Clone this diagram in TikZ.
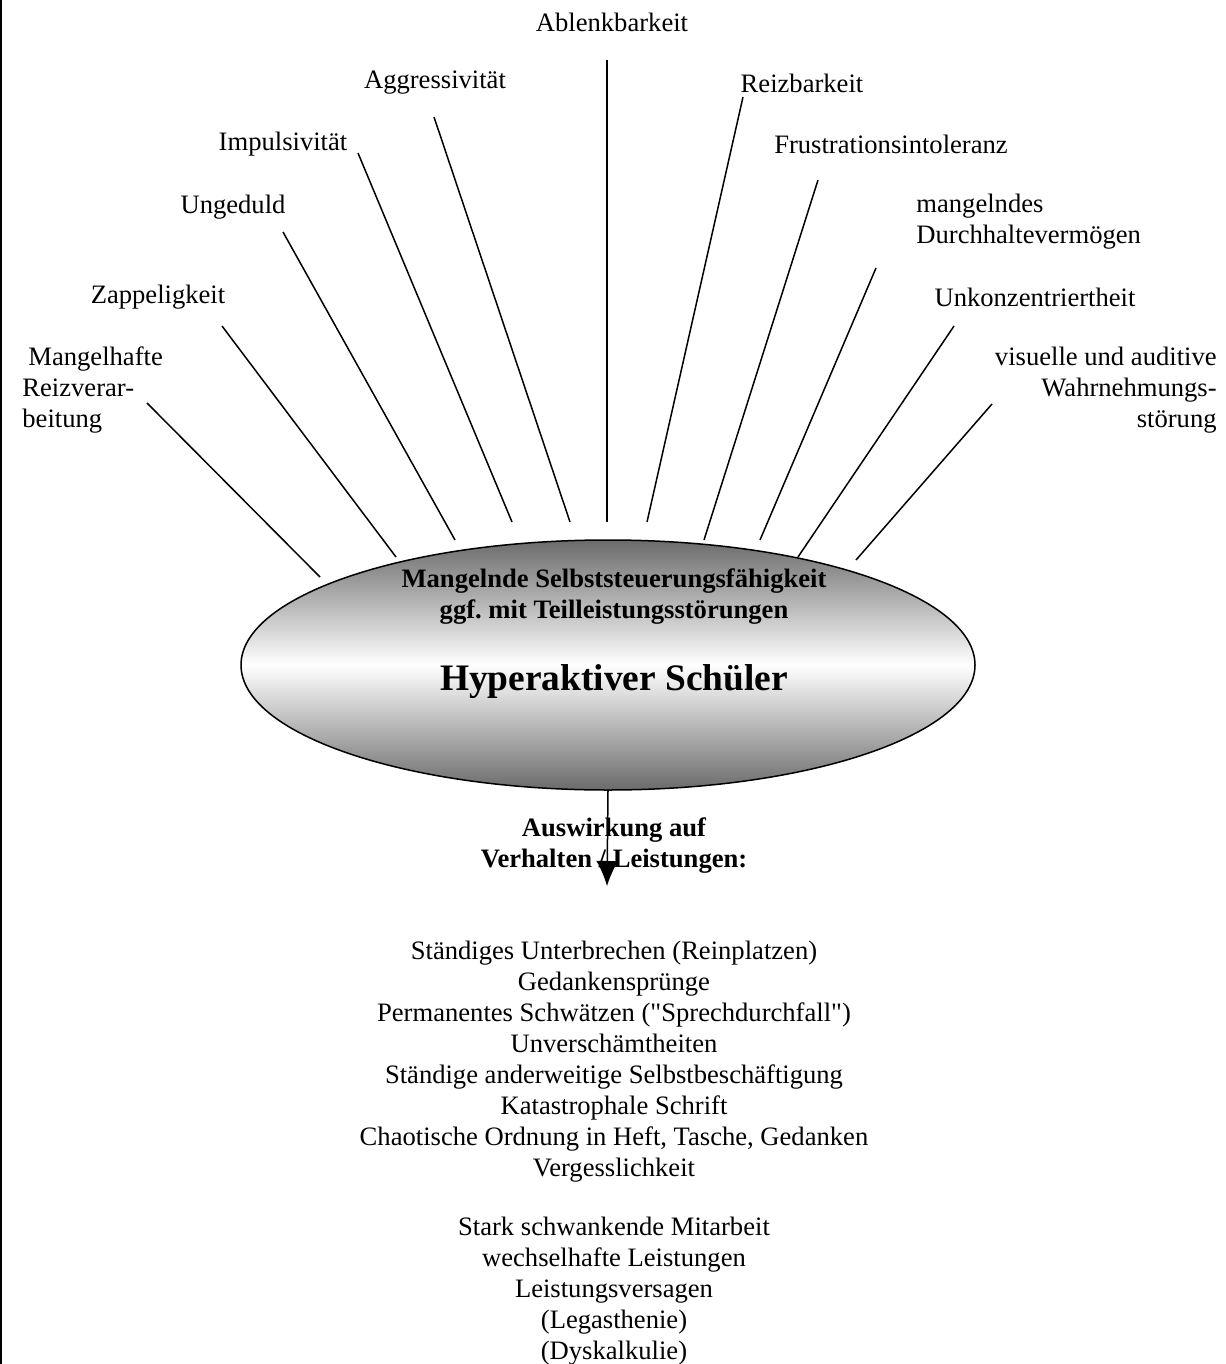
\documentclass[tikz,border=0pt]{standalone}
\usepackage{fontspec}
\setmainfont{Liberation Serif}
\newfontfamily\rawfont{Liberation Serif}
\usetikzlibrary{shapes.geometric,arrows.meta}
\frenchspacing
\begin{document}
\begin{tikzpicture}[x=0.5pt,y=-0.5pt,
  lbl/.style={font=\fontsize{13.3pt}{15.5pt}\selectfont, inner sep=0pt},
  boldlbl/.style={font=\fontsize{13.3pt}{15.5pt}\selectfont\bfseries, inner sep=0pt, align=center},
  titlelbl/.style={font=\fontsize{18.7pt}{22pt}\selectfont\bfseries, inner sep=0pt},
  listlbl/.style={font=\fontsize{13.3pt}{15.5pt}\selectfont, inner sep=0pt, align=center},
  ray/.style={line width=0.75pt},
  ell/.style={ellipse, draw, line width=0.75pt, minimum width=367pt, minimum height=125pt, inner sep=0pt,
    top color=black!58, bottom color=black!58, middle color=white}
]
\useasboundingbox (0,0) rectangle (1225,1364);
\draw[line width=0.9pt] (1,0) -- (1,1364);

% labels
\node[lbl] (t1) at (612,22) {Ablenkbarkeit};
\node[lbl] (t2) at (435,83) {Aggressivität};
\node[lbl] (t3) at (802,83) {Reizbarkeit};
\node[lbl] (t4) at (283,144) {Impulsivität};
\node[lbl] (t5) at (891,144) {Frustrationsintoleranz};
\node[lbl] (t6) at (233,207) {Ungeduld};
\node[lbl, align=left, anchor=west] (t7) at (916,222) {mangelndes\\Durchhaltevermögen};
\node[lbl] (t8) at (158,297) {Zappeligkeit};
\node[lbl] (t9) at (1035,297) {Unkonzentriertheit};
\node[lbl, align=left, anchor=west] (t10) at (22,390) {\hspace{3pt}Mangelhafte\\Reizverar-\\beitung};
\node[lbl, align=right, anchor=east] (t11) at (1217,390) {visuelle und auditive\\Wahrnehmungs-\\störung};

% ray end points
\coordinate (a1) at (147,403); \coordinate (b1) at (320,577);
\coordinate (a2) at (222,326); \coordinate (b2) at (396,557);
\coordinate (a3) at (283,232); \coordinate (b3) at (455,540);
\coordinate (a4) at (358,153); \coordinate (b4) at (512,522);
\coordinate (a5) at (434,117); \coordinate (b5) at (570,522);
\coordinate (a6) at (607,60);  \coordinate (b6) at (607,522);
\coordinate (a7) at (743,97);  \coordinate (b7) at (647,522);
\coordinate (a8) at (818,180); \coordinate (b8) at (704,540);
\coordinate (a9) at (876,268); \coordinate (b9) at (760,540);
\coordinate (a10) at (954,326); \coordinate (b10) at (798,557);
\coordinate (a11) at (992,404); \coordinate (b11) at (856,560);
\foreach \i in {1,...,11} {\draw[ray] (a\i) -- (b\i);}

% ellipse
\node[ell] (e) at (608,665) {};
\node[boldlbl] (s1) at (614,597) {Mangelnde Selbststeuerungsfähigkeit\\ggf. mit Teilleistungsstörungen};
\node[titlelbl] (s2) at (614,682) {Hyperaktiver Schüler};

% effects
\node[boldlbl] (h) at (614,846) {Auswirkung auf\\Verhalten / Leistungen:};
\node[listlbl] (l1) at (614,1062) {Ständiges Unterbrechen (Reinplatzen)\\Gedankensprünge\\Permanentes Schwätzen ({\rawfont"}Sprechdurchfall{\rawfont"})\\Unverschämtheiten\\Ständige anderweitige Selbstbeschäftigung\\Katastrophale Schrift\\Chaotische Ordnung in Heft, Tasche, Gedanken\\Vergesslichkeit};
\node[listlbl] (l2) at (614,1291) {Stark schwankende Mitarbeit\\wechselhafte Leistungen\\Leistungsversagen\\(Legasthenie)\\(Dyskalkulie)};

\coordinate (tip) at (607,886);
\draw[line width=0.75pt, -{Latex[length=12.5pt,width=11pt]}] (e.south) -- (tip);
\end{tikzpicture}
\end{document}
